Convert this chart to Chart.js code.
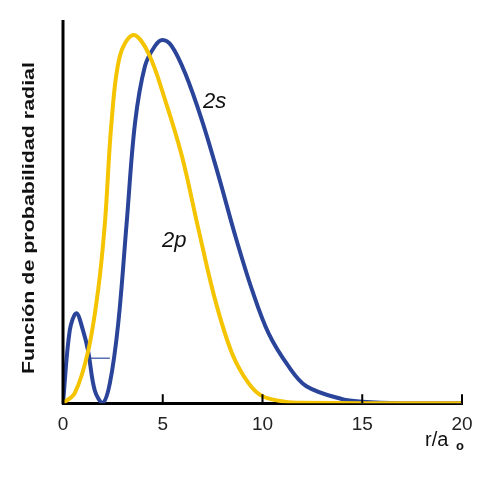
<!DOCTYPE html>
<html>
<head>
<meta charset="utf-8">
<script src="https://cdn.jsdelivr.net/npm/chart.js@4"></script>
<style>
  body { margin: 0; background: #fff; }
  canvas { display: block; }
</style>
</head>
<body>
<canvas id="chart" width="491" height="480"></canvas>
<script>
// valores (unidad arbitraria)
const xTicks = [0, 5, 10, 15, 20];

const r2p = [0, 0.59, 1.26, 1.76, 2.1, 2.43, 2.85, 3.52, 4.28, 5.12, 5.96, 6.8, 7.63, 8.47, 9.3, 10, 11.3, 12, 15, 20];
const p2p = [0, 10, 52, 113, 180, 280, 347, 368, 350, 303, 247, 173, 103, 50, 20, 7, 1, 0.5, 0, 0];

const r2s = [0, 0.34, 0.67, 1.0, 1.26, 1.59, 1.98, 2.35, 2.77, 3.19, 3.61, 4.11, 4.61, 4.98, 5.45, 6.12, 6.96, 7.8, 8.64, 9.48, 10.3, 11.3, 12.2, 14, 15, 17, 20];
const p2s = [0, 73, 90, 73, 52, 13, 0, 20, 80, 180, 280, 337, 357, 363, 357, 330, 283, 227, 167, 113, 70, 37, 17, 4, 1.5, 0, 0];

// pequeña linea horizontal dentro del primer lobulo
const rMark = [1.26, 2.35];
const pMark = [45, 45];

const yellow = '#f5c400';
const blue = '#2a449a';

const toPts = (xs, ys) => xs.map((x, i) => ({ x: x, y: ys[i] }));

const decor = {
    id: 'decor',
    afterDraw(chart) {
        const ctx = chart.ctx;
        const area = chart.chartArea;
        const xs = chart.scales.x;
        ctx.save();
        // eje y
        ctx.strokeStyle = '#000';
        ctx.lineWidth = 3;
        ctx.beginPath();
        ctx.moveTo(area.left, 20);
        ctx.lineTo(area.left, area.bottom + 1);
        ctx.stroke();
        // marcas hacia arriba
        ctx.lineWidth = 2;
        xTicks.slice(1).forEach(t => {
            const px = xs.getPixelForValue(t);
            ctx.beginPath();
            ctx.moveTo(px, area.bottom);
            ctx.lineTo(px, area.bottom - 9);
            ctx.stroke();
        });
        ctx.fillStyle = '#111';
        ctx.font = 'italic 22px "Liberation Sans", Arial, sans-serif';
        ctx.textAlign = 'left';
        ctx.textBaseline = 'middle';
        ctx.fillText('2s', 203, 102);
        ctx.fillText('2p', 162, 241);
        // etiqueta del eje x
        ctx.font = '20px "Liberation Sans", Arial, sans-serif';
        ctx.fillText('r/a', 425, 440);
        ctx.font = 'bold 13px "Liberation Sans", Arial, sans-serif';
        ctx.fillText('o', 456, 446);
        // titulo del eje y
        const title = 'Función de probabilidad radial';
        ctx.translate(30, 218);
        ctx.rotate(-Math.PI / 2);
        ctx.textAlign = 'center';
        ctx.font = 'bold 16px "Liberation Sans", Arial, sans-serif';
        const w = ctx.measureText(title).width;
        ctx.scale(312 / w, 1);
        ctx.fillText(title, 0, 0);
        ctx.restore();
    }
};

new Chart(document.getElementById('chart'), {
    type: 'line',
    data: {
        datasets: [
            { data: toPts(r2p, p2p), borderColor: yellow, borderWidth: 4, pointRadius: 0, tension: 0.35 },
            { data: toPts(r2s, p2s), borderColor: blue, borderWidth: 4, pointRadius: 0, tension: 0.35 },
            { data: toPts(rMark, pMark), borderColor: '#5a6fb0', borderWidth: 1.5, pointRadius: 0 }
        ]
    },
    options: {
        responsive: false,
        animation: false,
        layout: { padding: { left: 63, right: 29, top: 20, bottom: 42 } },
        plugins: { legend: { display: false }, tooltip: { enabled: false } },
        scales: {
            x: {
                type: 'linear', min: 0, max: 20,
                grid: { display: false },
                border: { display: true, color: '#000', width: 3 },
                ticks: {
                    stepSize: 5, color: '#222', padding: 2,
                    font: { size: 19, family: '"Liberation Sans", Arial, sans-serif' }
                }
            },
            y: { display: false, min: 0, max: 383 }
        }
    },
    plugins: [decor]
});
</script>
</body>
</html>
